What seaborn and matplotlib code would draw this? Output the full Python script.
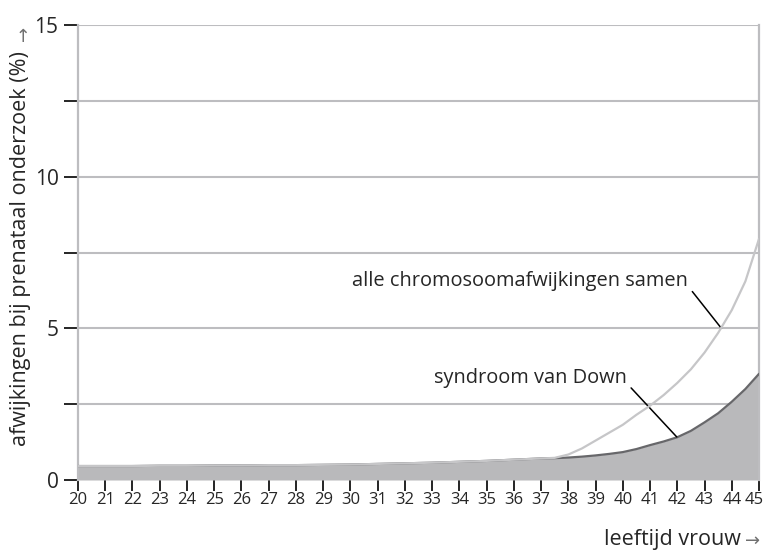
import matplotlib
matplotlib.use("Agg")
import matplotlib.pyplot as plt
import matplotlib.transforms as mtransforms
import seaborn as sns
import pandas as pd

# --- data ------------------------------------------------------------------
ages = [20, 21, 22, 23, 24, 25, 26, 27, 28, 29, 30, 31, 32, 33, 34, 35, 36,
        36.5, 37, 37.5, 38, 38.5, 39, 39.5, 40, 40.5, 41, 41.5, 42, 42.5,
        43, 43.5, 44, 44.5, 45]
down = [0.46, 0.46, 0.46, 0.47, 0.47, 0.48, 0.48, 0.49, 0.49, 0.50, 0.51,
        0.53, 0.55, 0.57, 0.60, 0.63, 0.67,
        0.69, 0.71, 0.72, 0.74, 0.77, 0.81, 0.86, 0.92, 1.02, 1.15, 1.27,
        1.41, 1.62, 1.90, 2.20, 2.58, 3.00, 3.50]
all_chrom = [0.46, 0.46, 0.46, 0.47, 0.47, 0.48, 0.48, 0.49, 0.49, 0.50, 0.51,
             0.53, 0.55, 0.57, 0.60, 0.63, 0.67,
             0.69, 0.71, 0.73, 0.84, 1.04, 1.30, 1.56, 1.82, 2.15, 2.45, 2.80,
             3.20, 3.65, 4.20, 4.85, 5.60, 6.55, 7.95]
year_ticks = list(range(20, 46))
y_major = [0, 5, 10, 15]
y_grid = [2.5, 5, 7.5, 10, 12.5, 15]
label_all = "alle chromosoomafwijkingen samen"
label_down = "syndroom van Down"
xlabel = "leeftijd vrouw"
ylabel = "afwijkingen bij prenataal onderzoek (%)"

df = pd.DataFrame({"age": ages, "down": down, "all": all_chrom})

# --- style ----------------------------------------------------------------
sns.set_style("white")
plt.rcParams["font.family"] = ["Open Sans", "DejaVu Sans"]

W, H = 767, 553
fig = plt.figure(figsize=(W / 100, H / 100), dpi=100)
ax = fig.add_axes([78 / W, 1 - 480 / H, (759 - 78) / W, (480 - 25) / H])

grid_c = "#bdbdc0"
for g in y_grid:
    ax.axhline(g, color=grid_c, lw=1.5, zorder=1)

ax.fill_between(df["age"], 0, df["down"], color="#b9b9bb", lw=0, zorder=2)
sns.lineplot(data=df, x="age", y="down", ax=ax, color="#67676a", lw=1.6, zorder=3)
sns.lineplot(data=df, x="age", y="all", ax=ax, color="#c6c6c8", lw=1.6, zorder=4)

ax.set_xlim(20, 45)
ax.set_ylim(0, 15)
ax.set_xticks(year_ticks)
ax.set_xticklabels([str(a) for a in year_ticks], fontsize=12)
ax.set_yticks([0] + y_grid)
ax.set_yticklabels([str(int(v)) if v in y_major else "" for v in [0] + y_grid],
                   fontsize=15)
ax.tick_params(axis="x", direction="out", length=8, width=1.2, color="black",
               pad=1, bottom=True)
ax.tick_params(axis="y", direction="out", length=10, width=1.2, color="black",
               pad=4, left=True)

# keep the last year label inside the picture
last = ax.get_xticklabels()[-1]
last.set_transform(last.get_transform() +
                   mtransforms.ScaledTranslation(-5 / 100, 0, fig.dpi_scale_trans))

for s in ["left", "right"]:
    ax.spines[s].set_color(grid_c)
    ax.spines[s].set_linewidth(1.6)
ax.spines["top"].set_visible(False)
ax.spines["bottom"].set_visible(False)
ax.set_xlabel("")
ax.set_ylabel("")

# axis titles with grey arrows
fig.text(21 / W, 1 - 446 / H, ylabel, fontsize=15.5, rotation=90,
         ha="center", va="bottom")
fig.text(24 / W, 1 - 26 / H, "\u2192", fontsize=13, rotation=90,
         ha="center", va="top", color="#707070")
fig.text(741 / W, 1 - 540 / H, xlabel, fontsize=15.5, ha="right", va="center")
fig.text(760 / W, 1 - 541 / H, "\u2192", fontsize=13, ha="right", va="center",
         color="#707070")

# annotations
ax.annotate(label_all, xy=(43.62, 5.0), xytext=(42.4, 6.55),
            fontsize=14.4, ha="right", va="center",
            arrowprops=dict(arrowstyle="-", color="black", lw=1.1,
                            shrinkA=1, shrinkB=0, relpos=(1.0, 0.25)))
ax.annotate(label_down, xy=(41.98, 1.42), xytext=(40.15, 3.35),
            fontsize=14.4, ha="right", va="center",
            arrowprops=dict(arrowstyle="-", color="black", lw=1.1,
                            shrinkA=1, shrinkB=0, relpos=(1.0, 0.25)))

fig.savefig("out.png", dpi=100)
